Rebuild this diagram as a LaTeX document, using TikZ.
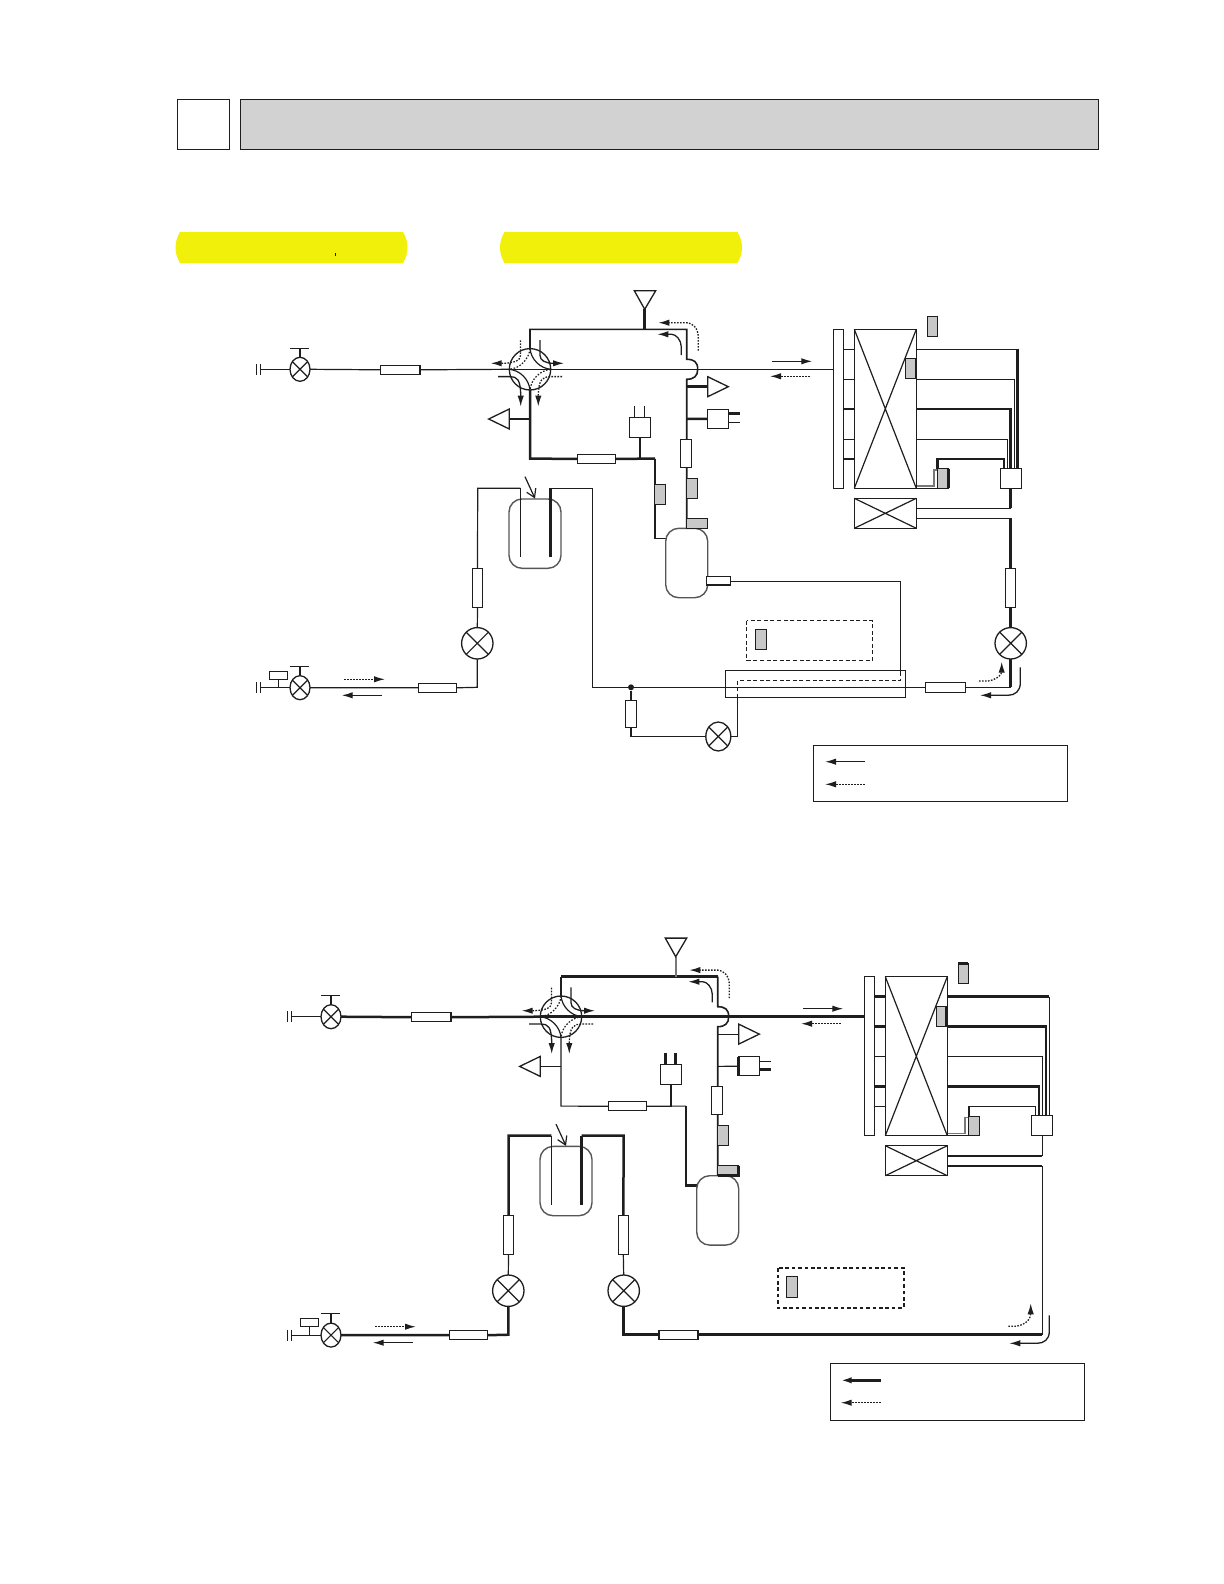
\documentclass[tikz,border=0pt]{standalone}
\usetikzlibrary{arrows.meta,shapes.geometric,backgrounds}
\definecolor{partgray}{HTML}{C8C8C8}
\definecolor{headgray}{HTML}{D2D2D2}
\definecolor{pillyellow}{HTML}{F0F00A}
\definecolor{ink}{HTML}{1E1E1E}
\tikzset{
  pthin/.style={line width=.6pt,draw=ink},
  pmed/.style={line width=.8pt,draw=ink},
  pthick/.style={line width=1.25pt,draw=ink},
  pgrey/.style={line width=.8pt,draw=ink!60},
  pdot/.style={line width=.6pt,draw=ink,dash pattern=on .8pt off .8pt},
  flow/.style={line width=.65pt,draw=ink,-{Latex[length=5.5pt,width=3.2pt]}},
  flowd/.style={line width=.65pt,draw=ink,dash pattern=on .8pt off .7pt,-{Latex[length=5.5pt,width=3.2pt]}},
  compbox/.style={draw=ink,line width=.6pt,fill=white,inner sep=0pt,outer sep=0pt,rectangle},
  grayb/.style={compbox,fill=partgray},
  vesselb/.style={compbox,draw=ink!75,line width=.7pt,rounded corners=6.5pt},
  valvec/.style={draw=ink,line width=.65pt,fill=white,inner sep=0pt,outer sep=0pt,ellipse},
  partb/.style={draw=ink,line width=.65pt,fill=white},
}
\newcommand\comp[6][]{%
  \pgfmathsetmacro\cw{#5-#3}\pgfmathsetmacro\ch{#6-#4}%
  \pgfmathsetmacro\cx{(#5+#3)/2}\pgfmathsetmacro\cy{(#6+#4)/2}%
  \node[compbox,#1,minimum width=\cw*0.5pt,minimum height=\ch*0.5pt] (#2) at (\cx,\cy) {};}
\newcommand\valve[5]{% name x y rx ry
  \node[valvec,minimum width=#4*1pt,minimum height=#5*1pt] (#1) at (#2,#3) {};
  \draw[pthin] (#1.45)--(#1.225) (#1.135)--(#1.-45);}
\newcommand\crossbox[6][]{%
  \comp[#1]{#2}{#3}{#4}{#5}{#6}
  \draw[pthin] (#2.north west)--(#2.south east) (#2.north east)--(#2.south west);}
\newcommand\fourway{%
  \node[draw=ink,line width=.65pt,circle,inner sep=0pt,outer sep=0pt,minimum size=20.7pt] (fw) at (530,369.3) {};
  \begin{scope}[shift={(530,369.3)}]
    \draw[pthin] (0,-20.7) .. controls (1,-10) and (10,-1) .. (20.7,0);
    \draw[pthin] (-20.7,0) .. controls (-10,1) and (-1,10) .. (0,20.7);
    \draw[pdot] (0,-20.7) .. controls (-1,-10) and (-10,-1) .. (-20.7,0);
    \draw[pdot] (20.7,0) .. controls (10,1) and (1,10) .. (0,20.7);
    \draw[flow] (10,-29.3) -- (10,-14) .. controls (10,-9) and (15,-6) .. (34,-6);
    \draw[flow] (-32,7.3) -- (-20,7.3) .. controls (-13,7.3) and (-9.3,10) .. (-9.3,37.3);
    \draw[flowd] (-9.5,-29) -- (-9.5,-14) .. controls (-9.5,-9) and (-15,-6) .. (-39.3,-6);
    \draw[flowd] (32,7.3) -- (20,7.3) .. controls (13,7.3) and (8.3,10) .. (8.3,37.3);
  \end{scope}}
% everything the two circuits share; pipes are added per circuit
\newcommand\common{%
  \draw[partb] (634.3,290.7)--(655.7,290.7)--(644.7,309.3)--cycle;
  \coordinate (apexT) at (644.7,309.3);
  \draw[partb] (707.7,376.7)--(707.7,396.7)--(728.3,386.7)--cycle;
  \coordinate (baseR) at (707.7,386.7);
  \draw[partb] (509.3,409)--(509.3,429)--(488.7,419)--cycle;
  \coordinate (baseL) at (509.3,419);
  \comp{sw}{707.7}{409.3}{728.7}{428.3}
  \comp{sens}{629.3}{417.3}{650.7}{437.3}
  \comp{capT}{577.3}{454.3}{615.7}{463.3}
  \comp{filt}{680.3}{439.3}{691.7}{467.3}
  \comp[grayb]{g1}{686.7}{478.3}{697.7}{498.3}
  \comp{capM}{380.5}{365.3}{420}{374.3}
  \comp[vesselb]{accu}{509}{499}{561}{568.3}
  \comp[vesselb]{cpr}{665.7}{528.3}{707.7}{597.7}
  \comp[grayb]{g2}{686.7}{518.3}{707.7}{528.3}
  \comp{hdr}{833.3}{329.3}{843.7}{488.3}
  \crossbox{coil}{854.3}{329.3}{916.3}{488.3}
  \crossbox{fan}{854.3}{498.3}{916.3}{528.3}
  \comp[grayb]{g3}{905.7}{358.7}{915.7}{378.7}
  \comp[grayb]{g4}{927.3}{316.3}{937.3}{336.3}
  \comp[grayb]{g5}{937.3}{468.7}{948.3}{488.3}
  \comp{jbox}{1000.3}{468.3}{1021.7}{488.3}
  \valve{vT}{300}{369.3}{10}{12}
  \draw[pthin] (vT.north)--(300,348.3) (290,348.3)--(309,348.3);
  \draw[pthin] (260.7,364)--(260.7,375);
  \draw[pthin] (256.3,364)--(256.3,375);
  \valve{vB}{300}{687.7}{10}{12}
  \draw[pthin] (vB.north)--(300,666.3) (290,666.3)--(309,666.3);
  \draw[pthin] (260.7,682.3)--(260.7,693.3);
  \draw[pthin] (256.3,682.3)--(256.3,693.3);
  \comp{sol}{269.3}{671.3}{287.3}{679.3}
  \comp{capB}{418.3}{683.3}{456.7}{692.3}
  \comp[grayb]{g6}{755.3}{629.3}{766.7}{649.7}
  \draw[flow] (772.3,361.3)--(812.3,361.3);
  \draw[flowd] (810,376.3)--(770,376.3);
  \draw[flowd] (698.3,350.7)--(698.3,337) .. controls (698.3,328) and (692,322.7) .. (686.7,322.7)--(658.3,322.7);
  \draw[flow] (681.3,355)--(681.3,347) .. controls (681.3,340) and (676,334.3) .. (671.7,334.3)--(657.3,334.3);
  \draw[flowd] (344,679.3)--(385,679.3);
  \draw[flow] (381.7,695.3)--(341.7,695.3);
  \fourway
}
\begin{document}
\begin{tikzpicture}[x=0.5pt,y=-0.5pt]
\useasboundingbox (0,0) rectangle (1224,1584);
% page header
\node[compbox,line width=.5pt,minimum width=26pt,minimum height=25pt] (hA) at (203.5,124.5) {};
\node[compbox,line width=.5pt,fill=headgray,minimum width=429pt,minimum height=25pt] (hB) at (669,124.5) {};
\fill[pillyellow] (180,232)--(403,232) .. controls (409,242) and (409,253) .. (403,263)--(180,263) .. controls (174,253) and (174,242) .. (180,232)--cycle;
\fill[pillyellow] (504.5,232)--(737.5,232) .. controls (743.5,242) and (743.5,253) .. (737.5,263)--(504.5,263) .. controls (498.5,253) and (498.5,242) .. (504.5,232)--cycle;
\draw[ink,line width=.5pt] (335,253)--(335,256);

% ---------- upper circuit ----------
\common
\comp{capR}{1005.7}{568.3}{1015.7}{607.3}
\comp{capA}{472.3}{568.3}{482.7}{607.3}
\valve{vA}{477.3}{643.3}{15.7}{15.7}
\valve{vR}{1010.7}{643.3}{15.7}{15.7}
\comp{capL}{925.3}{682.3}{965.7}{692.3}
\comp{capD}{625.3}{700.7}{636.7}{727.3}
\valve{vD}{718.3}{736.5}{12.5}{14.5}
\comp[grayb]{g7}{654.3}{484.3}{665.7}{504.3}
\comp{dis}{706.7}{576.3}{730.7}{585}
\draw[pthick] (706.7,585)--(730.7,585);
\draw[pthick] (948.3,468.7)--(948.3,488.3);
\draw[pthin] (725.3,670.3) rectangle (905.7,697.7);
\coordinate (hxW) at (725.3,687.3);
\node[circle,fill=ink,inner sep=0pt,minimum size=3pt] (jn) at (631,687.3) {};
\draw[line width=.75pt,draw=ink,dash pattern=on 2pt off 1.3pt] (746.7,620.7) rectangle (872.7,660.3);
\draw[flowd] (979,681)--(988,681) .. controls (996,680) and (1001.7,675) .. (1001.7,661.7);
\draw[flow] (1020.3,667.3)--(1020.3,683) .. controls (1020.3,691) and (1015,695.3) .. (1008,695.3)--(980,695.3);
\comp{legA}{813.3}{745.3}{1067.7}{801.5}
\draw[flow] (865,761.7)--(825,761.7);
\draw[flowd] (865,784.3)--(825,784.3);
\draw[pthin] (capM.east)--(fw.west);
\draw[pthin] (vT.east)--(capM.west);
\draw[pthin] (260.7,369.3)--(vT.west);
\draw[pthin] (fw.west)--(fw.east)--(833.3,369.3);
\begin{scope}[on background layer]
  \draw[pmed] (fw.north)--(530,329.3)--(686.7,329.3)--(686.7,359.3) .. controls (694,359.3) and (697.7,362) .. (697.7,369.3) .. controls (697.7,376) and (694,379.3) .. (686.7,379.3)--(686.7,528.3);
  \draw[pthick] (apexT)--(644.7,329.3);
  \draw[pthick] (686.7,386.7)--(baseR);
  \draw[pthick] (686.7,419)--(sw.west);
  \draw[pthick] (sw.east |- 0,413.7)--(740,413.7);
  \draw[pthin] (sw.east |- 0,422.3)--(740,422.3);
  \draw[pthick] (fw.south)--(530,458.7)--(capT.west);
  \draw[pthick] (530,419)--(baseL);
  \draw[pthick] (capT.east)--(655,458.7);
  \draw[pthick] (640,458.7)--(sens.south);
  \draw[pthin] (634.3,406)--(634.3,417.3) (644.3,406)--(644.3,417.3);
  \draw[pthin] (655,458.7)--(655,538.3)--(665.7,538.3);
  \draw[pthin] (520.3,488.3)--(477.7,488.3)--(capA.north);
  \draw[pthin] (capA.south)--(vA.north);
  \draw[pthin] (550.7,488.3)--(592.7,488.3)--(592.7,687.3)--(hxW);
  \draw[pthin] (vA.south)--(477.3,687.3)--(capB.east);
  \draw[pthin] (capB.west)--(vB.east);
  \draw[pthin] (vB.west)--(260.7,687.7);
  \draw[pthin] (sol.south)--(278.3,687.7);
  \draw[pthin] (730.7,581.4)--(900.6,581.4)--(900.6,672);
  \draw[line width=.6pt,draw=ink,dash pattern=on 2pt off 1.3pt] (900.6,672)--(900.6,680.4)--(737.7,680.4)--(737.7,696.7);
  \draw[pthin] (737.7,696.7)--(737.7,736.5)--(vD.east);
  \draw[pthin] (vD.west)--(631,736.5)--(capD.south);
  \draw[pthick] (capD.north)--(jn);
  \draw[pthin] (hxW)--(925.3,687.3);
  \draw[pthin] (capL.east)--(1010.7,687.3);
  \draw[pthick] (1010.7,687.3)--(vR.south);
  \draw[pthick] (vR.north)--(capR.south);
  \draw[pthick] (capR.north)--(1010.7,518.3);
  \draw[pthin] (1010.7,518.3)--(916.3,518.3);
  \draw[pthick] (1010.7,488.3)--(1010.7,508.3);
  \draw[pthin] (1010.7,508.3)--(916.3,508.3);
  \draw[pthin] (843.7,349.3)--(854.3,349.3) (843.7,379.3)--(854.3,379.3) (843.7,439.3)--(854.3,439.3);
  \draw[pthick] (843.7,409)--(854.3,409) (843.7,459)--(854.3,459);
  \draw[pthin] (916.3,349.3)--(1017.7,349.3);
  \draw[pthick] (1017.7,348.7)--(1017.7,468.3);
  \draw[pthin] (916.3,379.3)--(1014.7,379.3)--(1014.7,468.3);
  \draw[pthick] (916.3,409)--(1010.7,409)--(1010.7,468.3);
  \draw[pthin] (916.3,439.3)--(1007.7,439.3)--(1007.7,468.3);
  \draw[pthick] (937.3,468.7)--(937.3,459)--(1004,459)--(1004,468.3);
  \draw[pgrey] (916.3,486)--(933.7,486)--(933.7,470)--(937.3,470);
  \draw[pthin] (916.3,488.3)--(937.3,488.3);
\end{scope}
\draw[pthin] (520.3,488.3)--(520.3,557.3);
\draw[pthick] (550.7,488.3)--(550.7,557.3);
\draw[pthin,-{Straight Barb[length=4pt,width=5pt]}] (525,476.7)--(535,498.5);

% ---------- lower circuit ----------
\begin{scope}[shift={(31,647.4)}]
\common
\comp{capA}{472.3}{568.3}{482.7}{607.3}
\comp{capC}{587.3}{568.3}{597.3}{607.3}
\valve{vA}{477.3}{643.3}{15.7}{15.7}
\valve{vC}{592.7}{643.3}{15.7}{15.7}
\comp{capL}{628}{682.8}{667}{691.8}
\draw[line width=.9pt,draw=ink,dash pattern=on 1.8pt off 1.4pt] (746.7,620.7) rectangle (872.7,660.3);
\draw[pthick] (707.7,518.3)--(707.7,528.3)--(686.7,528.3);
\draw[pthick] (707.7,409.3)--(707.7,428.3);
\draw[pthick] (915.7,358.7)--(915.7,378.7);
\draw[pthick] (927.3,316.3)--(937.3,316.3);
\draw[flowd] (977.3,678.9)--(984,678.9) .. controls (994,678) and (999.7,672) .. (999.7,655.9);
\draw[flow] (1018.3,667.9)--(1018.3,684) .. controls (1018.3,692) and (1013,695.9) .. (1006,695.9)--(978.3,695.9);
\draw[pthick] (fw.west)--(fw.east)--(833.3,369.3);
\draw[pthick] (capM.east)--(fw.west);
\draw[pthick] (vT.east)--(capM.west);
\draw[pthin] (260.7,369.3)--(vT.west);
\begin{scope}[on background layer]
  \draw[pthin] (fw.north)--(530,329.3);
  \draw[pthick] (530,329.3)--(686.7,329.3);
  \draw[pmed] (686.7,329.3)--(686.7,359.3) .. controls (694,359.3) and (697.7,362) .. (697.7,369.3) .. controls (697.7,376) and (694,379.3) .. (686.7,379.3)--(686.7,528.3);
  \draw[pgrey] (apexT)--(644.7,329.3);
  \draw[pthin] (686.7,386.7)--(baseR);
  \draw[pthin] (686.7,419)--(sw.west);
  \draw[pthin] (sw.east |- 0,413.7)--(740,413.7);
  \draw[pthick] (sw.east |- 0,422.3)--(740,422.3);
  \draw[pthin] (fw.south)--(530,458.7)--(capT.west);
  \draw[pthin] (530,419)--(baseL);
  \draw[pthin] (capT.east)--(655,458.7);
  \draw[pthin] (640,458.7)--(sens.south);
  \draw[pthick] (634.3,406)--(634.3,417.3) (644.3,406)--(644.3,417.3);
  \draw[pthick] (655,458.7)--(655,538.3)--(665.7,538.3);
  \draw[pthick] (520.3,488.3)--(477.7,488.3)--(capA.north);
  \draw[pthin] (capA.south)--(vA.north);
  \draw[pthick] (550.7,488.3)--(592.7,488.3)--(capC.north);
  \draw[pthin] (capC.south)--(vC.north);
  \draw[pthick] (vA.south)--(477.3,687.3)--(capB.east);
  \draw[pthick] (capB.west)--(vB.east);
  \draw[pthin] (vB.west)--(260.7,687.7);
  \draw[pthin] (sol.south)--(278.3,687.7);
  \draw[pthick] (vC.south)--(592.7,687.3)--(capL.west);
  \draw[pthick] (capL.east)--(1011.3,687.3);
  \draw[pmed] (1011.3,687.3)--(1011.3,518.6);
  \draw[pthick] (1011.3,518.6)--(916.3,518.6);
  \draw[pmed] (1011.3,488.3)--(1011.3,508.6);
  \draw[pthick] (1011.3,508.6)--(916.3,508.6);
  \draw[pthick] (843.7,349.3)--(854.3,349.3) (843.7,379.3)--(854.3,379.3) (843.7,439.3)--(854.3,439.3);
  \draw[pthin] (843.7,409)--(854.3,409) (843.7,459)--(854.3,459);
  \draw[pthick] (916.3,349.3)--(1018.4,349.3);
  \draw[pthin] (1018.4,349.3)--(1018.4,468.3);
  \draw[pthick] (916.3,379.3)--(1015,379.3)--(1015,468.3);
  \draw[pthin] (916.3,409)--(1011.3,409)--(1011.3,468.3);
  \draw[pthick] (916.3,439.3)--(1008,439.3)--(1008,468.3);
  \draw[pthin] (938,468.7)--(938,459)--(1004.7,459)--(1004.7,468.3);
  \draw[pgrey] (916.3,486)--(934,486)--(934,470)--(938,470);
  \draw[pthin] (916.3,488.3)--(938,488.3);
\end{scope}
\draw[pthin] (520.3,488.3)--(520.3,557.3);
\draw[pthick] (550.7,488.3)--(550.7,557.3);
\draw[pthin,-{Straight Barb[length=4pt,width=5pt]}] (525,476.7)--(535,498.5);
\end{scope}
\comp{legB}{830.3}{1363.3}{1084.4}{1420.4}
\draw[pthick,-{Latex[length=5.5pt,width=3.2pt]}] (880.7,1380.3)--(840.7,1380.3);
\draw[flowd] (880.7,1402.7)--(840.7,1402.7);
\end{tikzpicture}
\end{document}
